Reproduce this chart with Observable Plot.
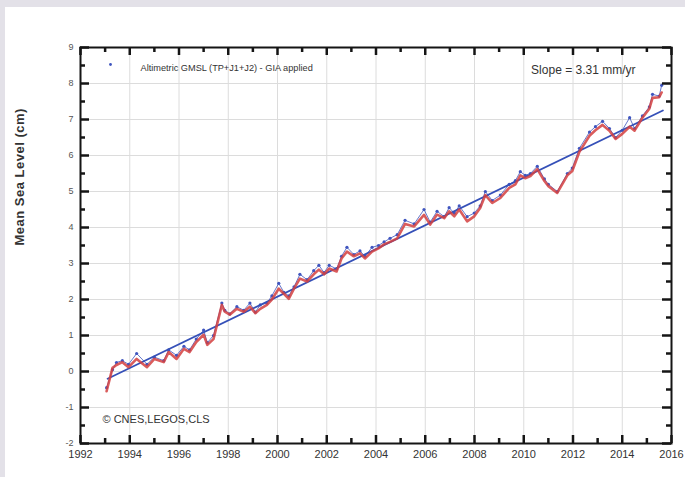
<!DOCTYPE html>
<html><head><meta charset="utf-8">
<script src="https://cdn.jsdelivr.net/npm/d3@7"></script>
<script src="https://cdn.jsdelivr.net/npm/@observablehq/plot@0.6"></script>
<style>
html,body{margin:0;padding:0;background:#e3e1e8;width:685px;height:477px;overflow:hidden;}
#panel{position:absolute;left:5px;top:7px;width:680px;height:470px;background:#fff;}
#panel svg{font-family:"Liberation Sans",Arial,sans-serif;}
</style></head><body><div id="panel"></div>
<script>
// decimal years
const times = [1993.06,1993.3,1993.46,1993.7,1993.95,1994.28,1994.7,1995.0,1995.38,1995.58,1995.9,1996.2,1996.43,1996.7,1997.0,1997.15,1997.4,1997.74,1997.86,1998.06,1998.35,1998.63,1998.88,1999.1,1999.3,1999.57,1999.77,2000.05,2000.26,2000.46,2000.67,2000.91,2001.2,2001.47,2001.68,2001.89,2002.1,2002.4,2002.6,2002.82,2003.1,2003.35,2003.55,2003.84,2004.1,2004.33,2004.57,2004.86,2005.18,2005.55,2005.95,2006.2,2006.48,2006.77,2006.97,2007.18,2007.38,2007.7,2007.99,2008.23,2008.44,2008.72,2009.05,2009.41,2009.66,2009.86,2010.06,2010.27,2010.55,2010.84,2011.0,2011.36,2011.77,2011.97,2012.26,2012.67,2012.91,2013.2,2013.48,2013.73,2014.0,2014.3,2014.5,2014.82,2015.1,2015.23,2015.5,2015.6];
// smoothed GMSL (cm) — red curve
const smoothed = [-0.55,0.1,0.18,0.26,0.12,0.35,0.12,0.35,0.26,0.54,0.35,0.63,0.54,0.82,1.02,0.74,0.9,1.85,1.66,1.58,1.74,1.66,1.8,1.62,1.74,1.85,2.0,2.3,2.16,2.02,2.3,2.58,2.5,2.7,2.83,2.7,2.86,2.78,3.14,3.33,3.2,3.28,3.14,3.33,3.42,3.53,3.6,3.7,4.1,4.03,4.35,4.08,4.36,4.26,4.45,4.31,4.5,4.17,4.31,4.54,4.9,4.68,4.82,5.1,5.2,5.45,5.37,5.43,5.62,5.29,5.15,4.96,5.45,5.57,6.1,6.55,6.7,6.85,6.69,6.46,6.6,6.8,6.69,7.05,7.3,7.6,7.62,7.75];
// raw GMSL (cm) — blue points
const raw = [-0.45,0.05,0.25,0.3,0.2,0.5,0.2,0.4,0.3,0.6,0.45,0.7,0.6,0.9,1.15,0.8,1.0,1.9,1.7,1.6,1.8,1.7,1.9,1.65,1.85,1.9,2.1,2.45,2.2,2.1,2.35,2.7,2.55,2.8,2.95,2.75,2.95,2.85,3.2,3.45,3.25,3.35,3.2,3.45,3.5,3.6,3.7,3.8,4.2,4.1,4.5,4.15,4.45,4.3,4.55,4.4,4.6,4.3,4.4,4.6,5.0,4.75,4.9,5.2,5.3,5.55,5.45,5.5,5.7,5.35,5.2,5.0,5.5,5.65,6.2,6.65,6.8,6.95,6.75,6.5,6.7,7.05,6.75,7.1,7.35,7.7,7.65,7.95];
// linear trend endpoints (slope 3.31 mm/yr)
const trendT = [1993.1, 2015.65];
const trendV = [-0.2, 7.25];
// ticks
const yearTicks = [1992,1994,1996,1998,2000,2002,2004,2006,2008,2010,2012,2014,2016];
const yearMinor = [1993,1995,1997,1999,2001,2003,2005,2007,2009,2011,2013,2015];
const levelTicks = [-2,-1,0,1,2,3,4,5,6,7,8,9];
const levelMinor = [-1.5,-0.5,0.5,1.5,2.5,3.5,4.5,5.5,6.5,7.5,8.5];
const legendLabel = "Altimetric GMSL (TP+J1+J2) - GIA applied";
const slopeLabel = "Slope = 3.31 mm/yr";
const creditLabel = "© CNES,LEGOS,CLS";
const yLabel = "Mean Sea Level (cm)";

const series = times.map((t, i) => ({t, smooth: smoothed[i], raw: raw[i]}));
const trend = trendT.map((t, i) => ({t, v: trendV[i]}));

const W = 680, H = 470, mL = 75, mR = 14, mT = 40, mB = 34;
const iW = W - mL - mR, iH = H - mT - mB;
const blue = "#3f55bf", red = "#d43f3f", ink = "#151515";

const chart = Plot.plot({
  width: W, height: H,
  marginLeft: mL, marginRight: mR, marginTop: mT, marginBottom: mB,
  x: {domain: [1992, 2016]},
  y: {domain: [-2, 9]},
  style: {background: "transparent", fontFamily: "Liberation Sans, Arial, sans-serif"},
  marks: [
    Plot.gridX(yearTicks, {stroke: "#dcdcdc", strokeOpacity: 1, strokeWidth: 1}),
    Plot.gridY(levelTicks, {stroke: "#dcdcdc", strokeOpacity: 1, strokeWidth: 1}),
    Plot.line(series, {x: "t", y: "raw", stroke: blue, strokeWidth: 1, strokeOpacity: 0.8}),
    Plot.dot(series, {x: "t", y: "raw", r: 1.6, fill: blue, stroke: null}),
    Plot.line(trend, {x: "t", y: "v", stroke: "#3550b8", strokeWidth: 1.8}),
    Plot.line(series, {x: "t", y: "smooth", stroke: red, strokeWidth: 2.6, strokeOpacity: 0.85, curve: "linear"}),
    // inward ticks on all four sides
    Plot.ruleX(yearTicks, {x: d => d, insetTop: iH - 8, stroke: ink, strokeWidth: 2.5}),
    Plot.ruleX(yearMinor, {x: d => d, insetTop: iH - 5, stroke: ink, strokeWidth: 2.5}),
    Plot.ruleX(yearTicks, {x: d => d, insetBottom: iH - 8, stroke: ink, strokeWidth: 2.5}),
    Plot.ruleX(yearMinor, {x: d => d, insetBottom: iH - 5, stroke: ink, strokeWidth: 2.5}),
    Plot.ruleY(levelTicks, {y: d => d, insetRight: iW - 9, stroke: ink, strokeWidth: 2.5}),
    Plot.ruleY(levelMinor, {y: d => d, insetRight: iW - 5, stroke: ink, strokeWidth: 2.5}),
    Plot.ruleY(levelTicks, {y: d => d, insetLeft: iW - 9, stroke: ink, strokeWidth: 2.5}),
    Plot.ruleY(levelMinor, {y: d => d, insetLeft: iW - 5, stroke: ink, strokeWidth: 2.5}),
    Plot.frame({stroke: ink, strokeWidth: 2}),
    Plot.axisX(yearTicks, {tickSize: 0, tickPadding: 7, fontSize: 11, fill: "#333", label: null, tickFormat: d => String(d)}),
    Plot.axisY(levelTicks, {tickSize: 0, tickPadding: 7, fontSize: 9, fill: "#555", label: null, tickFormat: d => String(d)}),
    Plot.text([yLabel], {frameAnchor: "left", dx: -61, rotate: -90, fontSize: 13, fontWeight: "bold", fill: "#333"}),
    Plot.dot([legendLabel], {frameAnchor: "top-left", dx: 30, dy: 17, r: 1.4, fill: blue, stroke: null}),
    Plot.text([legendLabel], {frameAnchor: "top-left", dx: 60, dy: 17, textAnchor: "start", fontSize: 9.2, fill: "#333"}),
    Plot.text([slopeLabel], {frameAnchor: "top-right", dx: -36, dy: 18, textAnchor: "end", fontSize: 12, fill: "#333"}),
    Plot.text([creditLabel], {frameAnchor: "bottom-left", dx: 22, dy: -21, textAnchor: "start", fontSize: 11, fill: "#333"})
  ]
});
document.getElementById("panel").appendChild(chart);
// slight letter spacing on the y label to match the original's wide setting
d3.select(chart).selectAll("text").filter(function() { return this.textContent === yLabel; }).attr("letter-spacing", "0.5px");
</script>
</body></html>
